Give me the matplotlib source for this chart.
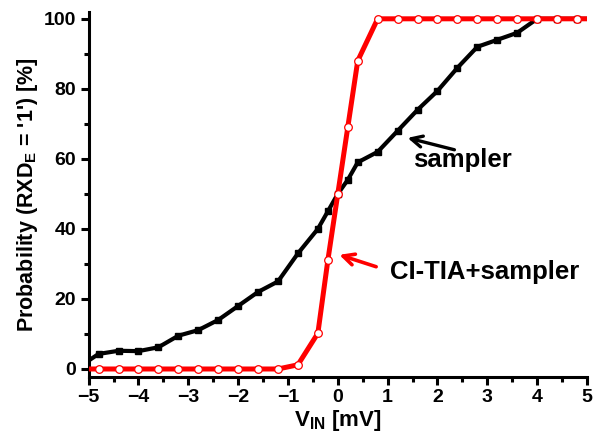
import matplotlib
matplotlib.use("Agg")
import matplotlib.pyplot as plt
from matplotlib.ticker import MultipleLocator

plt.rcParams["font.family"] = ["Liberation Sans", "DejaVu Sans"]
plt.rcParams["font.weight"] = "bold"
plt.rcParams["mathtext.fontset"] = "custom"
plt.rcParams["mathtext.rm"] = "Liberation Sans:bold"
plt.rcParams["mathtext.it"] = "Liberation Sans:bold"
plt.rcParams["mathtext.bf"] = "Liberation Sans:bold"

# sampler alone (black)
sampler_x = [-5.0, -4.8, -4.4, -4.0, -3.6, -3.2, -2.8, -2.4, -2.0, -1.6, -1.2,
             -0.8, -0.4, -0.2, 0.0, 0.2, 0.4, 0.8, 1.2, 1.6, 2.0, 2.4, 2.8,
             3.2, 3.6, 4.0, 4.4, 4.8, 5.0]
sampler_p = [2.4, 4.3, 5.2, 5.1, 6.2, 9.5, 11.1, 14.0, 18.0, 22.0, 25.0,
             33.0, 40.0, 45.0, 50.0, 54.0, 59.0, 62.0, 68.0, 74.0, 79.4, 86.0,
             92.0, 94.0, 96.0, 100.0, 100.0, 100.0, 100.0]

# CI-TIA + sampler (red)
tia_x = [-5.0, -4.8, -4.4, -4.0, -3.6, -3.2, -2.8, -2.4, -2.0, -1.6, -1.2,
         -0.8, -0.4, -0.2, 0.0, 0.2, 0.4, 0.8, 1.2, 1.6, 2.0, 2.4, 2.8,
         3.2, 3.6, 4.0, 4.4, 4.8, 5.0]
tia_p = [0.0, 0.0, 0.0, 0.0, 0.0, 0.0, 0.0, 0.0, 0.0, 0.0, 0.0,
         1.2, 10.2, 31.0, 50.0, 69.0, 88.0, 100.0, 100.0, 100.0, 100.0, 100.0,
         100.0, 100.0, 100.0, 100.0, 100.0, 100.0, 100.0]

fig = plt.figure(figsize=(6.07, 4.37), dpi=100)
ax = fig.add_axes([0.146, 0.138, 0.821, 0.835])

n = len(sampler_x)
ax.plot(sampler_x, sampler_p, color="black", lw=3.0, marker="s", ms=5,
        markevery=list(range(1, n - 1)), zorder=2)
ax.plot(tia_x, tia_p, color="red", lw=3.6, marker="o", ms=5.5,
        mfc="white", mec="red", mew=0.9,
        markevery=list(range(1, n - 1)), zorder=3)

ax.set_xlim(-5, 5)
ax.set_ylim(-2.2, 102)
ax.xaxis.set_major_locator(MultipleLocator(1))
ax.xaxis.set_minor_locator(MultipleLocator(0.5))
ax.yaxis.set_major_locator(MultipleLocator(20))
ax.yaxis.set_minor_locator(MultipleLocator(10))
ax.set_yticks([0, 20, 40, 60, 80, 100])

for s in ["top", "right"]:
    ax.spines[s].set_visible(False)
for s in ["left", "bottom"]:
    ax.spines[s].set_linewidth(2.2)
ax.tick_params(which="major", direction="out", length=6, width=2.2,
               labelsize=14, pad=3)
ax.tick_params(which="minor", direction="out", length=3.5, width=2.2)

ax.set_xlabel("V$_{\\rm IN}$ [mV]", fontsize=16, fontweight="bold", labelpad=1)
ax.set_ylabel("Probability (RXD$_{\\rm E}$ = '1') [%]", fontsize=15.5,
              fontweight="bold", labelpad=3)

ax.text(1.5, 59.7, "sampler", fontsize=18.5, fontweight="bold",
        va="center", ha="left")
ax.annotate("", xy=(1.4, 66), xytext=(2.34, 62.6),
            arrowprops=dict(arrowstyle="->", lw=2.4, color="black",
                            mutation_scale=20, shrinkA=0, shrinkB=0))
ax.text(1.04, 27.7, "CI-TIA+sampler", fontsize=18.5, fontweight="bold",
        va="center", ha="left")
ax.annotate("", xy=(0.03, 32.6), xytext=(0.77, 29.2),
            arrowprops=dict(arrowstyle="->", lw=2.6, color="red",
                            mutation_scale=20, shrinkA=0, shrinkB=0))

fig.savefig("out.png", dpi=100)
